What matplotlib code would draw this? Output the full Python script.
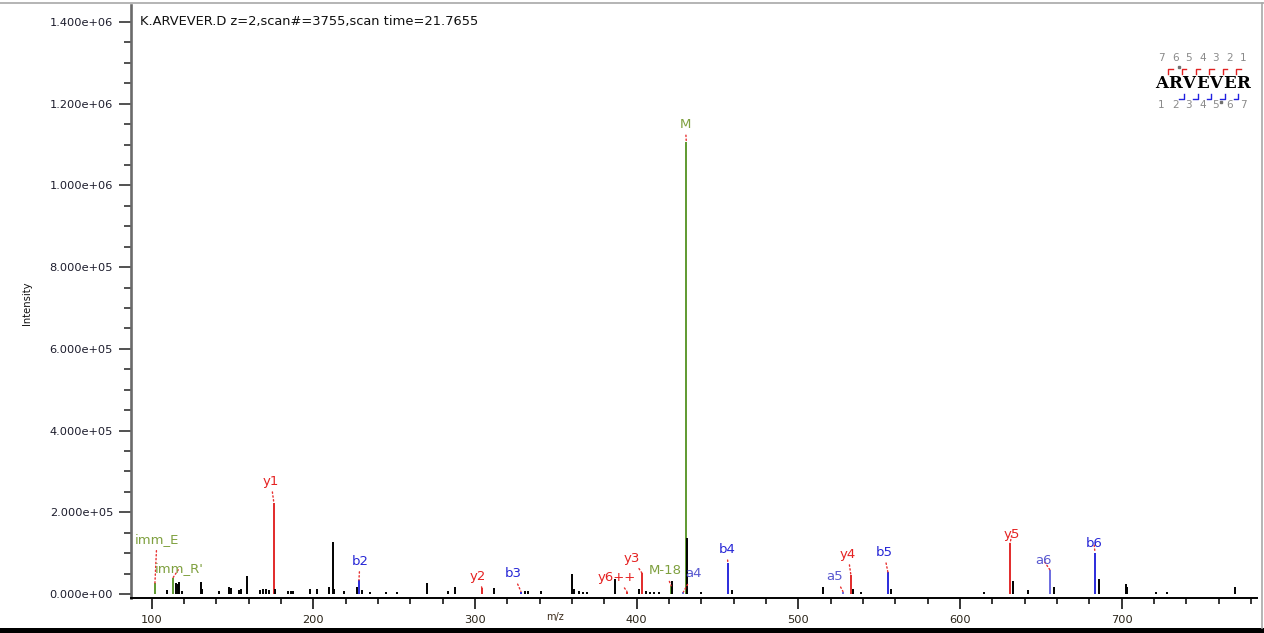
import matplotlib
matplotlib.use("Agg")
import matplotlib.pyplot as plt
from matplotlib.ticker import MultipleLocator, FuncFormatter

W, H, DPI = 1264, 633, 100

title_text = "K.ARVEVER.D z=2,scan#=3755,scan time=21.7655"
peptide = "ARVEVER"

# unassigned peaks (m/z, intensity)
peak_mz = [109.3, 115.0, 116.0, 117.0, 119.0, 130.3, 131.0, 141.5, 147.6, 149.0,
           154.0, 155.5, 158.8, 167.0, 169.0, 170.5, 172.5, 176.5, 184.5, 186.0,
           187.5, 197.7, 202.0, 209.5, 212.0, 213.0, 218.8, 226.8, 230.0, 235.3,
           245.0, 252.0, 270.0, 283.0, 287.5, 311.5, 331.0, 332.5, 341.0, 360.0,
           361.5, 364.0, 366.7, 369.5, 386.4, 401.3, 405.6, 408.0, 410.5, 413.6,
           422.0, 431.2, 440.0, 459.0, 515.0, 534.0, 539.0, 557.5, 614.6, 632.5,
           641.8, 658.0, 685.8, 702.5, 703.5, 721.0, 728.0, 770.0]
peak_int = [10e3, 28e3, 24e3, 30e3, 8e3, 30e3, 12e3, 8e3, 18e3, 14e3,
            10e3, 12e3, 45e3, 10e3, 12e3, 12e3, 10e3, 12e3, 8e3, 8e3,
            8e3, 12e3, 12e3, 18e3, 128e3, 12e3, 8e3, 18e3, 10e3, 6e3,
            6e3, 6e3, 27e3, 8e3, 16e3, 15e3, 8e3, 8e3, 8e3, 50e3,
            12e3, 8e3, 6e3, 6e3, 37e3, 12e3, 8e3, 6e3, 6e3, 6e3,
            32e3, 137e3, 5e3, 10e3, 18e3, 12e3, 5e3, 12e3, 5e3, 32e3,
            10e3, 18e3, 37e3, 25e3, 18e3, 6e3, 6e3, 18e3]

# assigned fragment ions
ion_labels = ["imm_E", "imm_R'", "y1", "b2", "y2", "b3", "y6++", "y3", "M-18",
              "a4", "M", "b4", "a5", "y4", "b5", "y5", "a6", "b6"]
ion_mz = [102.0, 113.2, 175.6, 228.2, 304.3, 328.4, 394.0, 403.3, 421.3,
          428.9, 430.7, 456.4, 527.6, 532.5, 555.4, 630.9, 655.6, 683.5]
ion_int = [27e3, 40e3, 222e3, 34e3, 14e3, 6e3, 6e3, 51e3, 20e3,
           5e3, 1105e3, 75e3, 6e3, 46e3, 53e3, 124e3, 59e3, 101e3]

# label offsets from the peak tip, in pixels (dx right, dy up)
label_offsets = {
    "imm_E": (2, 43), "imm_R'": (6, 9), "y1": (-3, 22), "b2": (1, 19),
    "y2": (-4, 12), "b3": (-8, 18), "y6++": (-10, 14), "y3": (-10, 15),
    "M-18": (-6, 15), "a4": (10, 18), "M": (-1, 18), "b4": (-1, 14),
    "a5": (-8, 15), "y4": (-3, 21), "b5": (-4, 20), "y5": (2, 9),
    "a6": (-6, 9), "b6": (-1, 9),
}

bar_colors = {"y": "#e22a2a", "b": "#2b2bdc", "a": "#6b6be0", "g": "#5f9a30"}
text_colors = {"y": "#e52222", "b": "#2626d6", "a": "#5858d0", "g": "#7fa03f"}


def ion_kind(lbl):
    if lbl.startswith("y"):
        return "y"
    if lbl.startswith("b"):
        return "b"
    if lbl.startswith("a"):
        return "a"
    return "g"


fig = plt.figure(figsize=(W / DPI, H / DPI), dpi=DPI)
fig.patch.set_facecolor("white")

left, right, top, bottom = 131, 1257, 5, 598
ax = fig.add_axes([left / W, 1 - bottom / H, (right - left) / W, (bottom - top) / H])

# axis scaling: m/z 100 at px 151.7, 1.6167 px per unit; intensity 0 at px 594
px_per_mz = 1.6167
px_per_int = 408.6e-6
ax.set_xlim(100 + (left - 151.7) / px_per_mz, 700 + (right - 1121.7) / px_per_mz)
ax.set_ylim(-(bottom - 594) / px_per_int, (594 - top) / px_per_int)

# peaks
for lbl, mz, it in zip(ion_labels, ion_mz, ion_int):
    k = ion_kind(lbl)
    ax.vlines(mz, 0, it, color=bar_colors[k], lw=1.4, zorder=2)
ax.vlines(peak_mz, 0, peak_int, color="black", lw=1.4, zorder=3)

# labels with dotted leaders
for lbl, mz, it in zip(ion_labels, ion_mz, ion_int):
    k = ion_kind(lbl)
    dx, dy = label_offsets[lbl]
    ax.annotate(lbl, xy=(mz, it), xytext=(dx, dy), textcoords="offset pixels",
                ha="center", va="center", fontsize=9.5, color=text_colors[k],
                zorder=4,
                arrowprops=dict(arrowstyle="-", color="#e83030", lw=1.0,
                                linestyle=(0, (1, 1.8)), shrinkA=1, shrinkB=0))

# axes styling
for s in ("top", "right"):
    ax.spines[s].set_visible(False)
ax.spines["left"].set_color("#6a6a6a")
ax.spines["left"].set_linewidth(1.9)
ax.spines["bottom"].set_color("black")
ax.spines["bottom"].set_linewidth(1.4)

ax.yaxis.set_major_locator(MultipleLocator(2e5))
ax.yaxis.set_minor_locator(MultipleLocator(5e4))
ax.yaxis.set_major_formatter(FuncFormatter(lambda v, p: f"{v:.3e}"))
ax.xaxis.set_major_locator(MultipleLocator(100))
ax.xaxis.set_minor_locator(MultipleLocator(20))

ax.tick_params(axis="y", which="major", direction="out", length=8.6, width=1.1,
               color="#222222", pad=4.3, labelsize=8.2, labelcolor="#1c1c2c")
ax.tick_params(axis="y", which="minor", direction="out", length=5, width=1.1,
               color="#222222")
ax.tick_params(axis="x", which="major", direction="out", length=7.9, width=1.1,
               color="black", pad=4.5, labelsize=8.2, labelcolor="#2a2418")
ax.tick_params(axis="x", which="minor", direction="out", length=4, width=1.1,
               color="black")

# overlay in pixel coordinates for frame, captions and the sequence graphic
ov = fig.add_axes([0, 0, 1, 1], zorder=5)
ov.set_xlim(0, W)
ov.set_ylim(H, 0)
ov.axis("off")
ov.patch.set_alpha(0)

ov.plot([0, W], [3, 3], color="#a8a8a8", lw=1.2)
ov.plot([1262, 1262], [3, 628], color="#a8a8a8", lw=1.2)
ov.fill_between([0, W], 628, 633, color="black", lw=0)

ov.text(140, 22, title_text, fontsize=9.4, ha="left", va="center", color="#111111")
ov.text(555, 617, "m/z", fontsize=7, ha="center", va="center", color="#3a2a1a")
ov.text(27, 303, "Intensity", fontsize=7.2, ha="center", va="center",
        rotation=90, color="#111111")

# peptide sequence with observed fragment brackets
n = len(peptide)
centers = [1161.5 + 13.6 * i for i in range(n)]
for i, aa in enumerate(peptide):
    ov.text(centers[i], 84, aa, family="DejaVu Serif", weight="bold",
            fontsize=12, ha="center", va="center", color="black")
    ov.text(centers[i], 58, str(n - i), fontsize=7.5, ha="center", va="center",
            color="#8a8a8a")
    ov.text(centers[i], 105, str(i + 1), fontsize=7.5, ha="center", va="center",
            color="#8a8a8a")
gaps = [(centers[i] + centers[i + 1]) / 2 for i in range(n - 1)]
for lbl in ion_labels:
    k = ion_kind(lbl)
    num = lbl[1:].rstrip("+")
    if k == "y" and num.isdigit():
        g = gaps[n - 1 - int(num)]
        ov.plot([g, g, g + 4.5], [74, 69, 69], color="#e02020", lw=1.0)
    elif k == "b" and num.isdigit():
        g = gaps[int(num) - 1] + 2
        ov.plot([g - 4.5, g, g], [99, 99, 94], color="#2020e0", lw=1.0)
ov.plot([1179, 1221], [67, 102], ls="none", marker="s", ms=1.6, color="#707070")

fig.savefig("out.png", dpi=DPI, facecolor="white")
